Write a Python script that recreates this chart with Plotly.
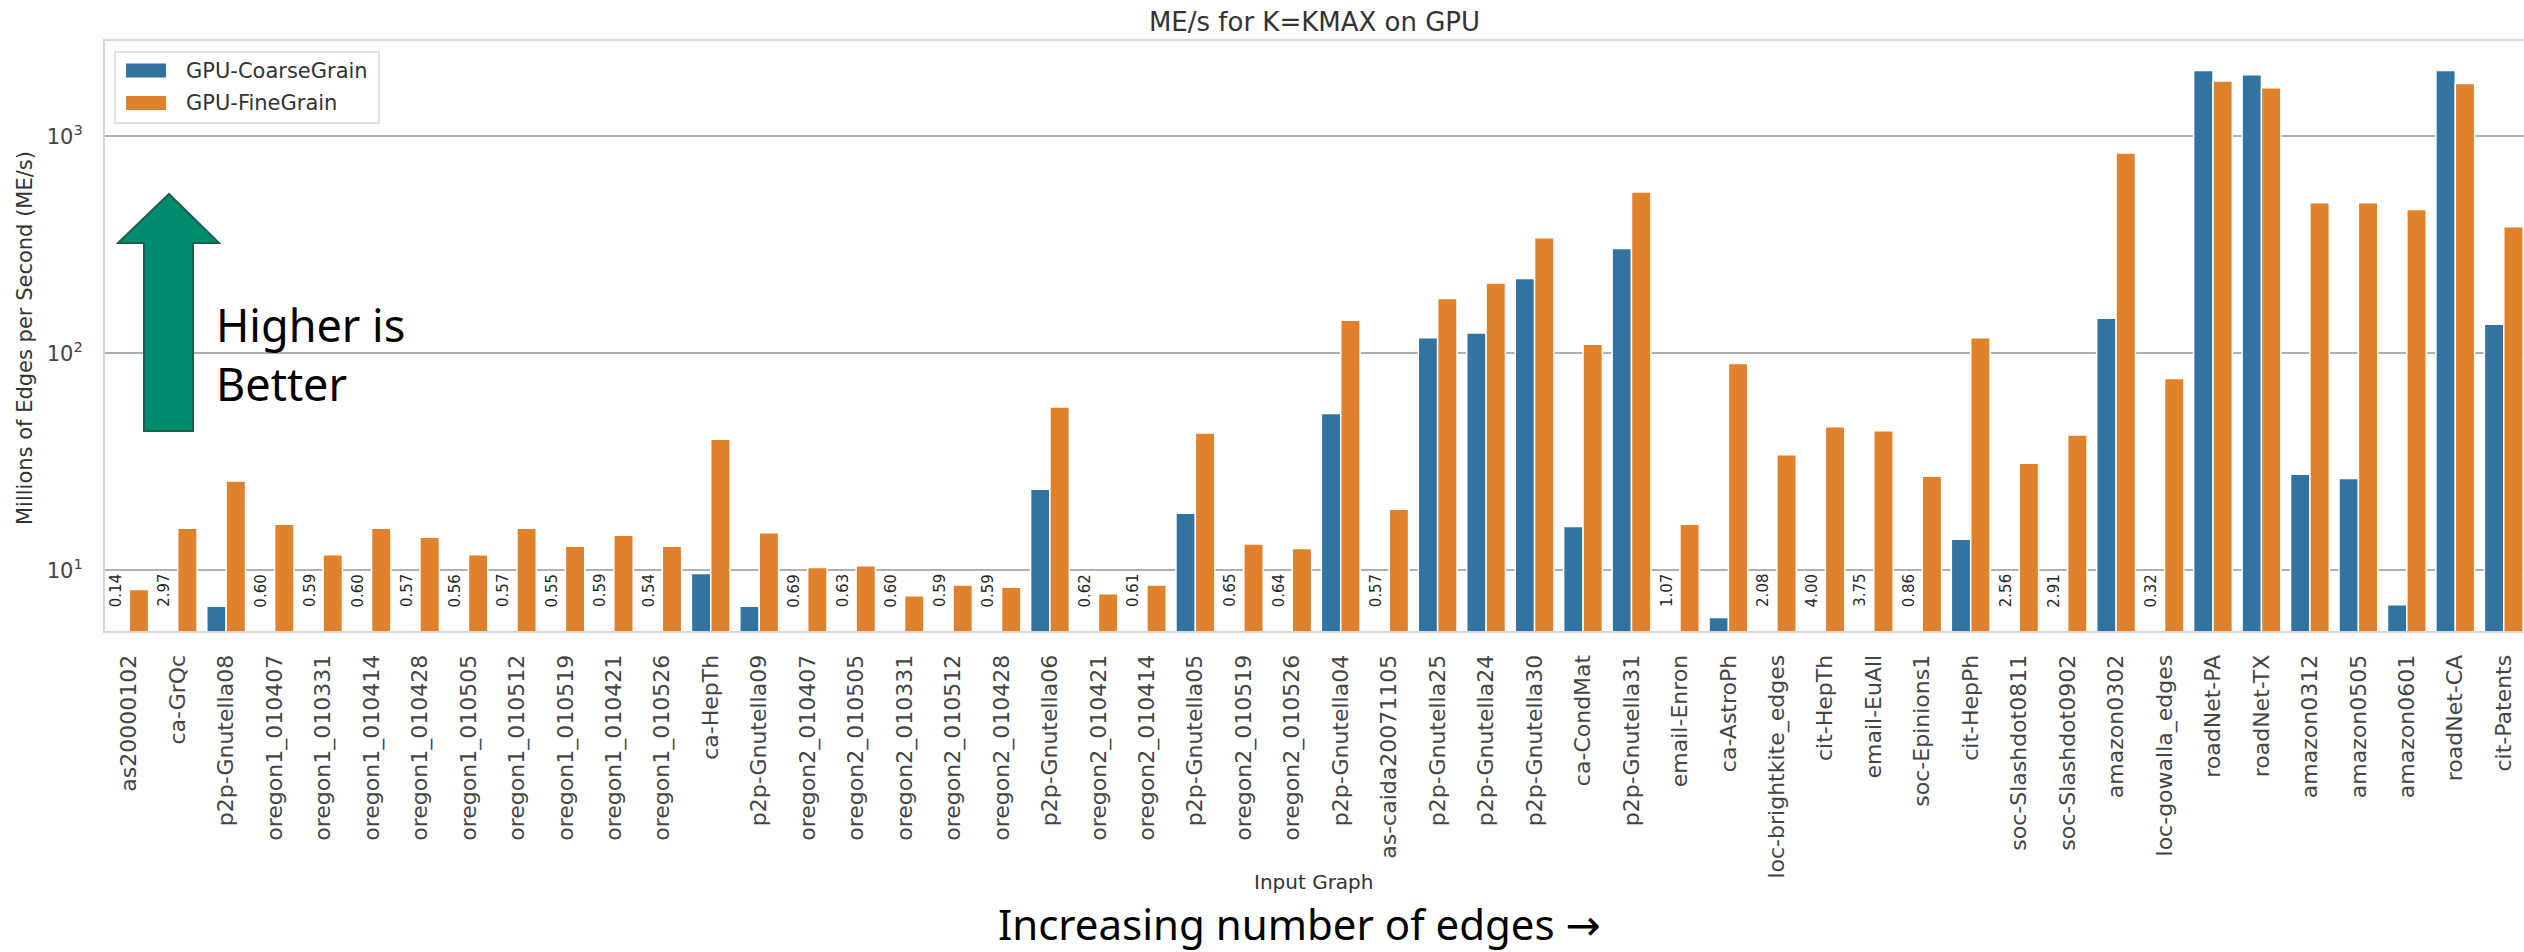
import plotly.graph_objects as go

categories = [
    "as20000102", "ca-GrQc", "p2p-Gnutella08", "oregon1_010407", "oregon1_010331",
    "oregon1_010414", "oregon1_010428", "oregon1_010505", "oregon1_010512", "oregon1_010519",
    "oregon1_010421", "oregon1_010526", "ca-HepTh", "p2p-Gnutella09", "oregon2_010407",
    "oregon2_010505", "oregon2_010331", "oregon2_010512", "oregon2_010428", "p2p-Gnutella06",
    "oregon2_010421", "oregon2_010414", "p2p-Gnutella05", "oregon2_010519", "oregon2_010526",
    "p2p-Gnutella04", "as-caida20071105", "p2p-Gnutella25", "p2p-Gnutella24", "p2p-Gnutella30",
    "ca-CondMat", "p2p-Gnutella31", "email-Enron", "ca-AstroPh", "loc-brightkite_edges",
    "cit-HepTh", "email-EuAll", "soc-Epinions1", "cit-HepPh", "soc-Slashdot0811",
    "soc-Slashdot0902", "amazon0302", "loc-gowalla_edges", "roadNet-PA", "roadNet-TX",
    "amazon0312", "amazon0505", "amazon0601", "roadNet-CA", "cit-Patents",
]

coarse_grain = [
    0.14, 2.97, 6.82, 0.60, 0.59, 0.60, 0.57, 0.56, 0.57, 0.55,
    0.59, 0.54, 9.66, 6.82, 0.69, 0.63, 0.60, 0.59, 0.59, 23.6,
    0.62, 0.61, 18.3, 0.65, 0.64, 52.7, 0.57, 118, 124, 221,
    15.9, 304, 1.07, 6.05, 2.08, 4.00, 3.75, 0.86, 13.9, 2.56,
    2.91, 145, 0.32, 2008, 1920, 27.7, 26.5, 6.94, 2008, 136,
]

fine_grain = [
    8.16, 15.6, 25.8, 16.3, 11.8, 15.6, 14.2, 11.8, 15.6, 12.9,
    14.5, 12.9, 40.2, 14.9, 10.3, 10.5, 7.63, 8.56, 8.34, 56.6,
    7.8, 8.56, 42.9, 13.2, 12.6, 142, 19.1, 179, 211, 341,
    110, 553, 16.3, 89.8, 34.1, 45.9, 43.9, 27.1, 118, 31.1,
    42.0, 837, 76.4, 1797, 1673, 494, 494, 460, 1750, 383,
]

series_names = ["GPU-CoarseGrain", "GPU-FineGrain"]
series_colors = ["#3274A1", "#E1812C"]
y_tick_values = [10, 100, 1000]
y_tick_labels = ["10<sup>1</sup>", "10<sup>2</sup>", "10<sup>3</sup>"]

# ---- layout geometry (pixels) ----
W, H = 2524, 952
L, R, T, B = 105, 0, 41, 321
PW, PH = W - L - R, H - T - B
BAND = 48.46
Y_LOG_MIN, Y_LOG_MAX = 0.72, 3.439
Y_MIN = 10 ** Y_LOG_MIN


def px(xp):
    return (xp - L) / PW


def py(yp):
    return (H - B - yp) / PH


FONT = "DejaVu Sans"
TXT = "#333333"

fig = go.Figure()
for name, vals, col in zip(series_names, [coarse_grain, fine_grain], series_colors):
    fig.add_trace(go.Bar(
        x=categories, y=vals, name=name,
        marker=dict(color=col, line=dict(color="white", width=1.5)),
        showlegend=False,
    ))

annotations = []
# value labels for coarse bars that fall below the axis floor
for i, v in enumerate(coarse_grain):
    if v < Y_MIN:
        annotations.append(dict(
            x=i - 0.2, y=1, xref="x", yref="y", text=f"{v:.2f}", showarrow=False,
            textangle=-90, xanchor="center", yanchor="top", xshift=-4, yshift=-2,
            font=dict(family=FONT, size=15, color="#262626"),
        ))

# custom legend
shapes = [dict(type="rect", xref="paper", yref="paper", x0=px(115), x1=px(379), y0=py(52), y1=py(123),
               line=dict(color="#d6d6d6", width=1.5), fillcolor="white", layer="above")]
for k, (name, col) in enumerate(zip(series_names, series_colors)):
    yc = 70.5 + k * 32.5
    shapes.append(dict(type="rect", xref="paper", yref="paper", x0=px(126), x1=px(166),
                       y0=py(yc + 7), y1=py(yc - 7), line=dict(width=0), fillcolor=col, layer="above"))
    annotations.append(dict(x=px(184), y=py(yc), xref="paper", yref="paper", text=name, showarrow=False,
                            xanchor="left", yanchor="middle", font=dict(family=FONT, size=21, color=TXT)))

# axis titles
annotations.append(dict(x=px(1314), y=py(882), xref="paper", yref="paper", text="Input Graph",
                        showarrow=False, xanchor="center", yanchor="middle",
                        font=dict(family=FONT, size=20, color=TXT)))
annotations.append(dict(x=px(25), y=py(338), xref="paper", yref="paper",
                        text="Millions of Edges per Second (ME/s)", textangle=-90,
                        showarrow=False, xanchor="center", yanchor="middle",
                        font=dict(family=FONT, size=21, color=TXT)))

# "higher is better" arrow
pts = [(169, 194), (219, 243), (193, 243), (193, 431), (144, 431), (144, 243), (118, 243)]
path = "M " + " L ".join(f"{px(a):.5f},{py(b):.5f}" for a, b in pts) + " Z"
shapes.append(dict(type="path", xref="paper", yref="paper", path=path,
                   fillcolor="#008C6E", line=dict(color="#1D5E4E", width=2), layer="above"))
annotations.append(dict(x=px(214), y=py(354), xref="paper", yref="paper", text="Higher is<br>Better",
                        showarrow=False, xanchor="left", yanchor="middle", align="left",
                        font=dict(family="Noto Sans", size=45, color="black")))
annotations.append(dict(x=px(1299), y=py(923), xref="paper", yref="paper",
                        text="Increasing number of edges <span style=\"font-family:'DejaVu Sans'\">\u2192</span>",
                        showarrow=False, xanchor="center", yanchor="middle",
                        font=dict(family="Noto Sans", size=42, color="black")))

fig.update_layout(
    width=W, height=H,
    margin=dict(l=L, r=R, t=T, b=B, autoexpand=False),
    paper_bgcolor="white", plot_bgcolor="white",
    barmode="group", bargap=0.2, bargroupgap=0,
    title=dict(text="ME/s for K=KMAX on GPU", x=0.5, xref="paper", xanchor="center",
               y=1 - 22 / H, yref="container", yanchor="middle",
               font=dict(family=FONT, size=26, color=TXT)),
    font=dict(family=FONT, color=TXT),
    shapes=shapes, annotations=annotations,
)
fig.update_xaxes(
    type="category", range=[-0.5, -0.5 + PW / BAND],
    tickangle=-90, tickfont=dict(family=FONT, size=22, color="#444444"),
    ticks="", ticklabelstandoff=13,
    showgrid=False, showline=True, mirror=True, linecolor="#d6d6d6", linewidth=2,
    automargin=False,
)
fig.update_yaxes(
    type="log", range=[Y_LOG_MIN, Y_LOG_MAX],
    tickvals=y_tick_values, ticktext=y_tick_labels,
    tickfont=dict(family=FONT, size=21, color="#444444"), ticks="", ticklabelstandoff=16,
    showgrid=True, gridcolor="#b0b0b0", gridwidth=2, minor=dict(showgrid=False),
    showline=True, linecolor="#d6d6d6", linewidth=2, zeroline=False,
    automargin=False,
)

fig.write_html("out.html", config={"displayModeBar": False},
               post_script="document.body.style.margin='0px';")
